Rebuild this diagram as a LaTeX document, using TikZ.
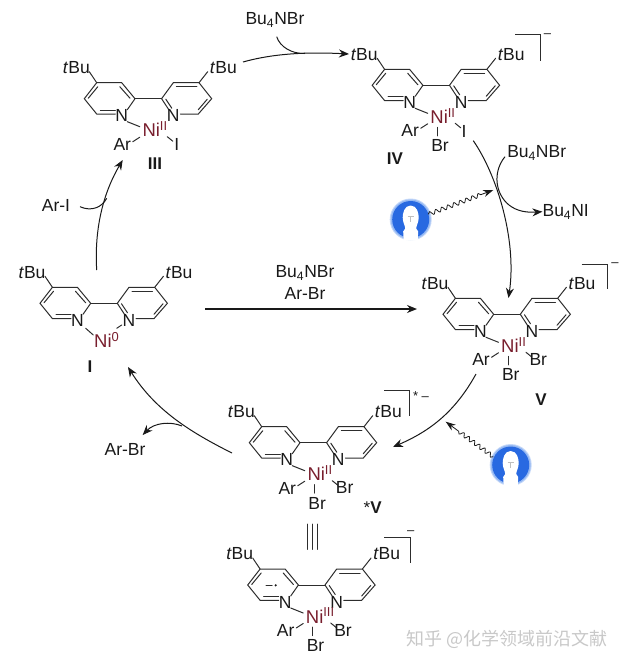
\documentclass[tikz,border=0pt]{standalone}
\usepackage{fontspec}
\setmainfont{Liberation Sans}
\newfontfamily\cjk{Noto Sans CJK SC}
\usepackage{xcolor}
\usetikzlibrary{arrows.meta, calc, decorations.pathmorphing}
\definecolor{mybond}{RGB}{45,45,45}
\definecolor{myink}{RGB}{25,25,25}
\definecolor{mynickel}{RGB}{120,30,45}
\definecolor{mybulb}{RGB}{40,105,225}
\definecolor{myhalo}{RGB}{150,185,243}
\definecolor{mymark}{RGB}{200,200,200}
\tikzset{
  bond/.style={line width=1pt, color=mybond, line cap=round},
  lbl/.style={font=\fontsize{17.5}{19}\selectfont, text=myink, inner sep=0pt},
  chglbl/.style={font=\fontsize{13}{15}\selectfont, text=myink, inner sep=0pt},
  nilbl/.style={font=\fontsize{18.5}{19}\selectfont, text=mynickel, inner sep=0pt, anchor=base west},
  cpdlbl/.style={font=\fontsize{17}{19}\selectfont\bfseries, text=myink, inner sep=0pt},
  chargeline/.style={line width=1pt, color=mybond},
  arrow/.style={-{Stealth[length=10pt, width=8pt]}, line width=1pt, color=myink},
  branch/.style={line width=1pt, color=myink},
  wavy/.style={-{Stealth[length=10pt, width=7pt]}, line width=0.8pt, color=myink, decorate,
    decoration={snake, amplitude=2pt, segment length=6.5pt, post=lineto, post length=13pt}}
}
% ligand, drawn around the middle of the ring-ring bond
\newcommand{\bipylig}{
  \draw[bond] (-13.3,0) -- (13.3,0);
  \draw[bond] (-21,11) -- (-13.3,0) -- (-26.6,-16) -- (-51.6,-16) -- (-64,0) -- (-51.6,15.3) -- (-33,15.3);
  \draw[bond] (-60,-0.5) -- (-50.5,-12);
  \draw[bond] (-28.5,-12) -- (-18.3,-0.5);
  \draw[bond] (-48,11.5) -- (-33,11.5);
  \draw[bond] (20.5,11) -- (13.3,0) -- (25,-16) -- (50.7,-16) -- (63.4,0) -- (50,15.3) -- (32,15.3);
  \draw[bond] (28,-12) -- (48.5,-12);
  \draw[bond] (50,11) -- (59,0.5);
  \draw[bond] (17.5,0.5) -- (23.5,9.5);
  \draw[bond] (-51.6,-16) -- (-59,-27);
  \draw[bond] (50.7,-16) -- (59.4,-27);
  \node[lbl] (nleft) at (-26.6,17) {N};
  \node[lbl] (nright) at (25,17) {N};
  \node[lbl] (tbuleft) at (-72,-31) {\textit{t}Bu};
  \node[lbl] (tburight) at (75,-31) {\textit{t}Bu};
}
% nickel with Ar and the ligand on the right
\newcommand{\nisquare}[2]{
  \draw[bond] (-21,23) -- (-8.5,28);
  \draw[bond] (-15.5,43) -- (-8.5,38.5);
  \draw[bond] (19,38) -- (24.5,42.5);
  \node[nilbl] (ni) at (-6,38.2) {Ni\textsuperscript{#1}};
  \node[lbl] (ar) at (-26,45.5) {Ar};
  \node[lbl] (xr) at #2;
}
% bromide below the nickel
\newcommand{\brdown}{
  \draw[bond] (1,42) -- (1,50.5);
  \node[lbl] (brb) at (3.8,60.5) {Br};
}
% lamp on blue disc
\newcommand{\lamp}{
  \fill[myhalo!55] (0,0) circle (21);
  \fill[myhalo] (0,0) circle (20);
  \fill[mybulb] (0,0) circle (18.5);
  \fill[white] (0,-14) .. controls (6.5,-14) and (8,-6) .. (8,-2) .. controls (8,3) and (5.5,6) .. (5.5,9)
    -- (7.5,12) -- (7,21) -- (-7,21) -- (-7.5,12) -- (-5.5,9) .. controls (-5.5,6) and (-8,3) .. (-8,-2)
    .. controls (-8,-6) and (-6.5,-14) .. (0,-14) -- cycle;
  \draw[line width=0.8pt, color=black!25] (-3,-3) -- (3,-3) (0,-3) -- (0,2.5);
}

\begin{document}
\begin{tikzpicture}[x=1pt, y=-1pt]
  \useasboundingbox (0,0) rectangle (627,665);

  % Complex III
  \begin{scope}[shift={(148.3,98.7)}, name prefix=cIII-]
    \bipylig
    \nisquare{II}{(28.4,45.5) {I}}
  \end{scope}
  \node[cpdlbl] (lblIII) at (155,163.3) {III};

  % Complex IV
  \begin{scope}[shift={(436.2,85.3)}, name prefix=cIV-]
    \bipylig
    \nisquare{II}{(27.8,45.7) {I}}
    \brdown
  \end{scope}
  \node[cpdlbl] (lblIV) at (395,158.3) {IV};
  \draw[chargeline] (515,34.3) -- (540.7,34.3) -- (540.7,60.7);
  \node[chglbl] (chgIV) at (547.5,36) {--};

  % Complex V
  \begin{scope}[shift={(507,314.3)}, name prefix=cV-]
    \bipylig
    \nisquare{II}{(31.3,45) {Br}}
    \brdown
  \end{scope}
  \node[cpdlbl] (lblV) at (541,400) {V};
  \draw[chargeline] (581.7,264) -- (607.3,264) -- (607.3,289.3);
  \node[chglbl] (chgV) at (615,265) {--};

  % Complex *V
  \begin{scope}[shift={(313.3,442.7)}, name prefix=cVs-]
    \bipylig
    \nisquare{II}{(31.3,45) {Br}}
    \brdown
  \end{scope}
  \node[cpdlbl] (lblVs) at (372.7,507.3) {{\mdseries *}V};
  \draw[chargeline] (384,390.7) -- (409.3,390.7) -- (409.3,416);
  \node[chglbl] (chgVs) at (421,396) {* --};

  % Resonance form, Ni(III)
  \begin{scope}[shift={(311.7,585)}, name prefix=cVr-]
    \bipylig
    \nisquare{III}{(31.3,45.5) {Br}}
    \brdown
    \draw[bond] (-45.7,0.3) -- (-39.5,0.3);
    \fill[myink] (-36,0.3) circle (1.2);
  \end{scope}
  \draw[chargeline] (384.3,537.3) -- (410.7,537.3) -- (410.7,563.3);
  \node[chglbl] (chgVr) at (410.7,532.5) {--};
  \draw[bond] (307.3,524) -- (307.3,549.3);
  \draw[bond] (312.5,524) -- (312.5,549.3);
  \draw[bond] (317.5,524) -- (317.5,549.3);

  % Complex I
  \begin{scope}[shift={(104,303.3)}, name prefix=cI-]
    \bipylig
    \draw[bond] (-18.3,25) -- (-10.7,31.7);
    \draw[bond] (17.7,21.7) -- (12.7,25);
    \node[nilbl] (ni) at (-10,44.6) {Ni\textsuperscript{0}};
  \end{scope}
  \node[cpdlbl] (lblI) at (90,366.7) {I};

  % Reagents
  \node[lbl] (brtop) at (275,20) {Bu\textsubscript{4}NBr};
  \node[lbl] (brright) at (536.7,152.7) {Bu\textsubscript{4}NBr};
  \node[lbl] (niout) at (565.7,211.7) {Bu\textsubscript{4}NI};
  \node[lbl] (brmid) at (305,273) {Bu\textsubscript{4}NBr};
  \node[lbl] (armid) at (305,293) {Ar-Br};
  \node[lbl] (ari) at (56,205) {Ar-I};
  \node[lbl] (arbr) at (125,449.3) {Ar-Br};

  % Lamps
  \begin{scope}[shift={(410.7,219.5)}]
    \lamp
  \end{scope}
  \begin{scope}[shift={(510.7,465)}]
    \lamp
  \end{scope}

  % Free ends of the arrows
  \coordinate (startIII) at (243,62);
  \coordinate (endIV) at (349,54);
  \coordinate (joinIII) at (305,53.5);
  \coordinate (startIV) at (473.3,140.7);
  \coordinate (endV) at (508.5,298);
  \coordinate (startV) at (476,374);
  \coordinate (endVs) at (393,447);
  \coordinate (startVs) at (232,453);
  \coordinate (endI) at (128,367);
  \coordinate (joinVs) at (182,426);
  \coordinate (endarbr) at (142.7,435);
  \coordinate (startI) at (96.7,270);
  \coordinate (endIII) at (122.7,160);
  \coordinate (joinI) at (106.7,198.3);
  \coordinate (startmid) at (205,309);
  \coordinate (endmid) at (417,309);
  \coordinate (lampone) at (428.3,214.3);
  \coordinate (lamponeend) at (493.3,190);
  \coordinate (lamptwo) at (493.3,456.7);
  \coordinate (lamptwoend) at (445.7,421.7);

  % Catalytic cycle
  \draw[arrow] (startIII) .. controls (275,53) and (310,52) .. (endIV);
  \draw[branch] (276.7,36.7) .. controls (280,47) and (292,54) .. (joinIII);
  \draw[arrow] (startIV) .. controls (497,175) and (517,240) .. (endV);
  \draw[branch] (505,156.7) .. controls (494,170) and (494,190) .. (506.7,203);
  \draw[arrow] (506.7,203) .. controls (513,209) and (522,213) .. (niout.west);
  \draw[arrow] (startV) .. controls (455,412) and (430,431) .. (endVs);
  \draw[arrow] (startVs) .. controls (190,432) and (155,410) .. (endI);
  \draw[arrow] (joinVs) .. controls (170,421) and (154,423) .. (endarbr);
  \draw[arrow] (startI) .. controls (94,225) and (105,190) .. (endIII);
  \draw[branch] (80,206.7) .. controls (92,212) and (102,207) .. (joinI);
  \draw[arrow, line width=1.5pt] (startmid) -- (endmid);

  % Light
  \draw[wavy] (lampone) -- (lamponeend);
  \draw[wavy] (lamptwo) -- (lamptwoend);

  % Watermark
  \node[inner sep=0pt, text=mymark, font=\fontsize{18}{20}\selectfont\cjk] (mark) at (506.7,639) {知乎 @化学领域前沿文献};
\end{tikzpicture}
\end{document}
